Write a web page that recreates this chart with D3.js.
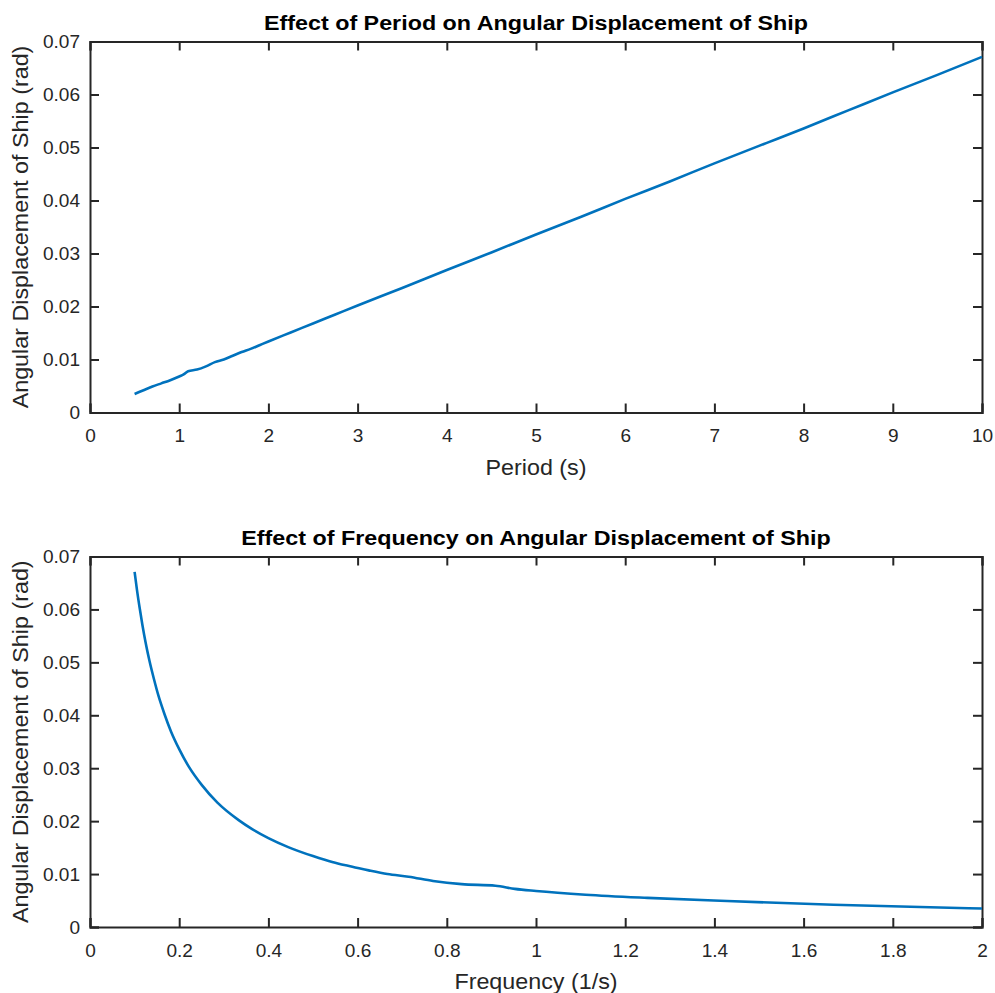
<!DOCTYPE html>
<html>
<head>
<meta charset="utf-8">
<script src="https://cdn.jsdelivr.net/npm/d3@7"></script>
<style>
  html, body { margin: 0; padding: 0; background: #fff; }
  svg text { font-family: "Liberation Sans", Arial, Helvetica, sans-serif; }
</style>
</head>
<body>
<svg id="fig" width="995" height="993"></svg>
<script>
// Wave period (s) and the resulting angular displacement of the ship (rad)
const periods = [0.5, 0.6, 0.7, 0.8, 0.9, 1.0, 1.05, 1.1, 1.2, 1.3, 1.4, 1.5, 1.6, 1.7, 1.8, 1.9,
                 2.0, 2.25, 2.5, 2.75, 3.0, 3.5, 4.0, 4.5, 5.0, 5.5, 6.0, 6.5, 7.0, 7.5, 7.7,
                 8.0, 8.5, 9.0, 9.5, 10.0];
const displacement = [0.0035, 0.0042, 0.0049, 0.0055, 0.0061, 0.0068, 0.0072, 0.0078, 0.0081,
                      0.0087, 0.0095, 0.0100, 0.0107, 0.0114, 0.0120, 0.0127, 0.0134, 0.0151,
                      0.0168, 0.0185, 0.0202, 0.0235, 0.0269, 0.0302, 0.0336, 0.0369, 0.0403,
                      0.0436, 0.0470, 0.0503, 0.0516, 0.0536, 0.0570, 0.0604, 0.0637, 0.0671];
// Matching wave frequencies (1/s) for the same runs
const frequencies = [2.0, 1.6667, 1.4286, 1.25, 1.1111, 1.0, 0.9524, 0.9091, 0.8333, 0.7692,
                     0.7143, 0.6667, 0.625, 0.5882, 0.5556, 0.5263, 0.5, 0.4444, 0.4, 0.3636,
                     0.3333, 0.2857, 0.25, 0.2222, 0.2, 0.1818, 0.1667, 0.1538, 0.1429, 0.1333,
                     0.1299, 0.125, 0.1176, 0.1111, 0.1053, 0.1];

const periodTicks = [0, 1, 2, 3, 4, 5, 6, 7, 8, 9, 10];
const freqTicks = [0, 0.2, 0.4, 0.6, 0.8, 1, 1.2, 1.4, 1.6, 1.8, 2];
const dispTicks = [0, 0.01, 0.02, 0.03, 0.04, 0.05, 0.06, 0.07];

const svg = d3.select("#fig");
const axisColor = "#262626";
const lineColor = "#0072BD";
const left = 90, right = 982;
// the figure's text is set slightly wide
const tickStretch = 1.06, labelStretch = 1.06, titleStretch = 1.11;

function panel(cfg) {
  const x = d3.scaleLinear().domain(cfg.xDomain).range([left, right]);
  const y = d3.scaleLinear().domain([0, 0.07]).range([cfg.bottom, cfg.top]);
  const g = svg.append("g");
  const tickLen = 9;
  const fmt = d => d3.format("~g")(d);

  // bottom axis with inward ticks
  const bottomAx = g.append("g").attr("transform", `translate(0,${cfg.bottom})`)
    .call(d3.axisBottom(x).tickValues(cfg.xTicks).tickSize(-tickLen).tickPadding(0).tickFormat(fmt));
  bottomAx.selectAll("text").attr("dy", "0.71em").attr("y", 17)
    .attr("transform", `scale(${tickStretch},1)`);
  // top axis (ticks only)
  g.append("g").attr("transform", `translate(0,${cfg.top})`)
    .call(d3.axisTop(x).tickValues(cfg.xTicks).tickSize(-tickLen).tickFormat(""));
  // left axis
  const leftAx = g.append("g").attr("transform", `translate(${left},0)`)
    .call(d3.axisLeft(y).tickValues(dispTicks).tickSize(-tickLen).tickPadding(10).tickFormat(fmt));
  leftAx.selectAll("text").attr("dy", "0.35em").attr("x", -10 / tickStretch)
    .attr("transform", `scale(${tickStretch},1)`);
  // right axis (ticks only)
  g.append("g").attr("transform", `translate(${right},0)`)
    .call(d3.axisRight(y).tickValues(dispTicks).tickSize(-tickLen).tickFormat(""));

  g.selectAll(".domain").attr("stroke", axisColor).attr("stroke-width", 2);
  g.selectAll(".tick line").attr("stroke", axisColor).attr("stroke-width", 2);
  g.selectAll(".tick text").attr("fill", axisColor).style("font-size", "18px");

  // data line
  const pts = cfg.xs.map((v, i) => [v, displacement[i]]);
  g.append("path").datum(pts)
    .attr("fill", "none").attr("stroke", lineColor).attr("stroke-width", 2.6)
    .attr("stroke-linejoin", "round")
    .attr("d", d3.line().x(d => x(d[0])).y(d => y(d[1])).curve(d3.curveMonotoneX));

  // title
  g.append("text")
    .attr("transform", `translate(${(left + right) / 2},${cfg.top - 12}) scale(${titleStretch},1)`)
    .attr("text-anchor", "middle").style("font-size", "21px").style("font-weight", "bold")
    .attr("fill", "#000").text(cfg.title);
  // x label
  g.append("text")
    .attr("transform", `translate(${(left + right) / 2},${cfg.bottom + 62}) scale(${labelStretch},1)`)
    .attr("text-anchor", "middle").style("font-size", "22px").attr("fill", axisColor)
    .text(cfg.xLabel);
  // y label
  g.append("text")
    .attr("transform", `translate(28,${(cfg.top + cfg.bottom) / 2}) rotate(-90) scale(${labelStretch},1)`)
    .attr("text-anchor", "middle").style("font-size", "22px").attr("fill", axisColor)
    .text("Angular Displacement of Ship (rad)");
}

panel({
  xDomain: [0, 10], xTicks: periodTicks, xs: periods,
  top: 41.5, bottom: 412.5,
  title: "Effect of Period on Angular Displacement of Ship", xLabel: "Period (s)"
});
panel({
  xDomain: [0, 2], xTicks: freqTicks, xs: frequencies,
  top: 556.5, bottom: 927,
  title: "Effect of Frequency on Angular Displacement of Ship", xLabel: "Frequency (1/s)"
});
</script>
</body>
</html>
